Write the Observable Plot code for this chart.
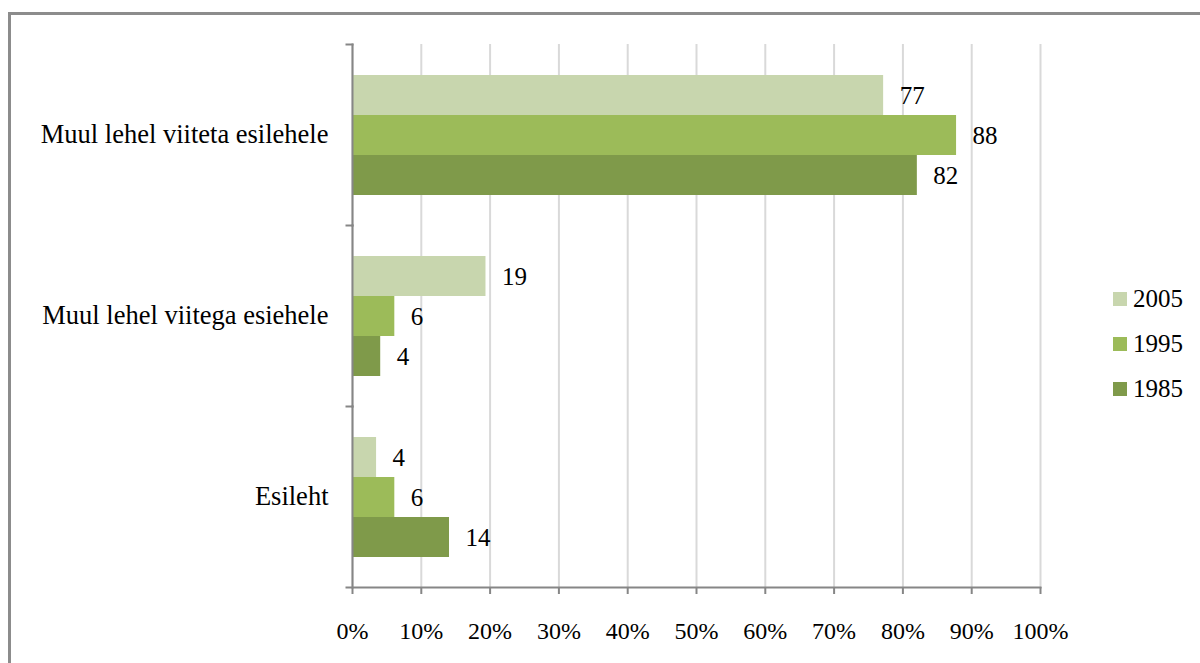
<!DOCTYPE html>
<html>
<head>
<meta charset="utf-8">
<script src="https://cdn.jsdelivr.net/npm/d3@7"></script>
<script src="https://cdn.jsdelivr.net/npm/@observablehq/plot@0.6"></script>
<style>
  html, body { margin: 0; padding: 0; background: #fff; }
  #wrap { position: relative; width: 1200px; height: 663px; overflow: hidden; font-family: "Liberation Serif", "Times New Roman", serif; }
  #border { position: absolute; left: 8px; top: 12px; width: 1250px; height: 720px; border: 3px solid #8c8c8c; box-sizing: border-box; }
  #chart { position: absolute; left: 0; top: 0; }
  #legend { position: absolute; left: 1113px; top: 276px; }
  .li { display: flex; align-items: center; height: 45px; font-size: 25px; color: #000; }
  .sw { width: 14px; height: 14px; margin-right: 6px; }
  #chart svg, #chart svg text { font-family: "Liberation Serif", "Times New Roman", serif; }
</style>
</head>
<body>
<div id="wrap">
  <div id="border"></div>
  <div id="chart"></div>
  <div id="legend"></div>
</div>
<script>
const categories = ["Muul lehel viiteta esilehele", "Muul lehel viitega esiehele", "Esileht"];
const years = ["2005", "1995", "1985"];
const colors = ["#c8d6ae", "#9cbb59", "#7f9a4a"];
const values2005 = [77.2, 19.4, 3.5];
const values1995 = [87.8, 6.15, 6.15];
const values1985 = [82.1, 4.1, 14.1];
const xTicks = [0, 10, 20, 30, 40, 50, 60, 70, 80, 90, 100];

const series = {"2005": values2005, "1995": values1995, "1985": values1985};
const data = [];
categories.forEach((c, i) => {
  years.forEach(y => data.push({category: c, year: y, value: series[y][i]}));
});

const W = 1200, H = 663, mL = 352, mR = 160, mT = 43, mB = 75;
const plotW = W - mL - mR;
const axisColor = "#868686";

const chart = Plot.plot({
  width: W,
  height: H,
  marginLeft: mL,
  marginRight: mR,
  marginTop: mT,
  marginBottom: mB,
  style: {background: "transparent", color: "#000", overflow: "visible"},
  x: {domain: [0, 100], label: null, axis: null},
  y: {domain: years, paddingInner: 0, paddingOuter: 0.76, axis: null},
  fy: {domain: categories, padding: 0, label: null, axis: null},
  color: {domain: years, range: colors},
  marks: [
    Plot.gridX(xTicks, {stroke: "#d9d9d9", strokeOpacity: 1, strokeWidth: 2}),
    Plot.barX(data, {x: "value", y: "year", fy: "category", fill: "year"}),
    Plot.text(data, {x: "value", y: "year", fy: "category", text: d => String(Math.round(d.value)), dx: 16, textAnchor: "start", fontSize: 25, fill: "#000"}),
    Plot.frame({anchor: "left", stroke: axisColor, strokeWidth: 2, strokeOpacity: 1}),
    Plot.frame({anchor: "top", insetLeft: -6, insetRight: plotW, stroke: axisColor, strokeWidth: 2, strokeOpacity: 1}),
    Plot.frame({anchor: "bottom", facetAnchor: "bottom", insetLeft: -6, stroke: axisColor, strokeWidth: 2, strokeOpacity: 1}),
    Plot.axisX(xTicks, {tickSize: 7, tickPadding: 27, tickFormat: d => d + "%", fontSize: 24, stroke: axisColor, strokeWidth: 2, strokeOpacity: 1, fill: "#000", label: null}),
    Plot.axisFy({anchor: "left", tickSize: 0, tickPadding: 24, fontSize: 26.5, fill: "#000", label: null})
  ]
});
document.getElementById("chart").appendChild(chart);

const legend = document.getElementById("legend");
years.forEach((y, i) => {
  const row = document.createElement("div");
  row.className = "li";
  const sw = document.createElement("span");
  sw.className = "sw";
  sw.style.background = colors[i];
  const t = document.createElement("span");
  t.textContent = y;
  row.appendChild(sw);
  row.appendChild(t);
  legend.appendChild(row);
});
</script>
</body>
</html>
